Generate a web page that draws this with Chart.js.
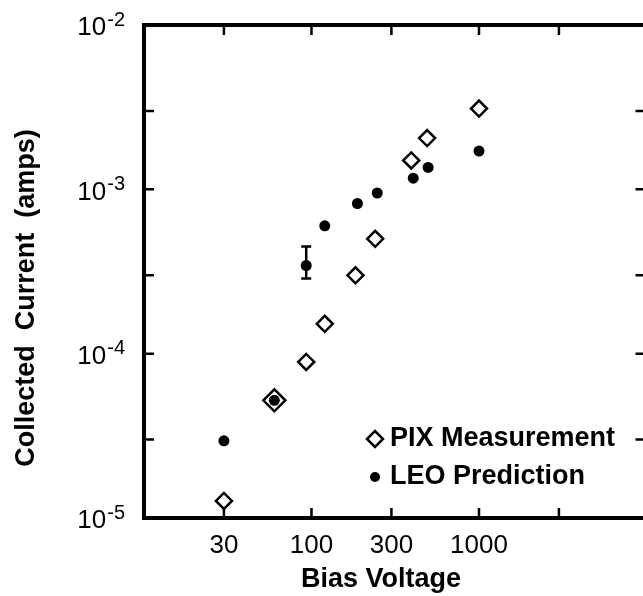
<!DOCTYPE html>
<html>
<head>
<meta charset="utf-8">
<script src="https://cdn.jsdelivr.net/npm/chart.js@4.4.1/dist/chart.umd.min.js"></script>
<style>
  html, body { margin: 0; padding: 0; background: #fff; overflow: hidden; }
  #wrap { width: 660px; height: 596px; }
</style>
</head>
<body>
<div id="wrap"><canvas id="pixChart" width="660" height="596"></canvas></div>
<script>
// PIX measurement vs LEO prediction, log-log
const pixVoltage = [30, 60, 93, 120, 183, 240, 394, 490, 1000];
const pixCurrent = [1.27e-5, 5.2e-5, 8.9e-5, 1.52e-4, 3.0e-4, 5.0e-4, 1.5e-3, 2.05e-3, 3.1e-3];

const leoVoltage = [30, 60, 93, 120, 188, 247, 405, 497, 1000];
const leoCurrent = [2.95e-5, 5.2e-5, 3.44e-4, 6.0e-4, 8.2e-4, 9.5e-4, 1.17e-3, 1.36e-3, 1.71e-3];

// error bar on the LEO point at ~93 V
const errVoltage = [93];
const errLow = [2.87e-4];
const errHigh = [4.49e-4];

const xTickValues = [30, 100, 300, 1000, 3000];
const xTickLabels = ['30', '100', '300', '1000', ''];
const yTickValues = [1e-5, 3e-5, 1e-4, 3e-4, 1e-3, 3e-3, 1e-2];
const yLabelValues = [1e-2, 1e-3, 1e-4, 1e-5];
const yLabelExponents = ['-2', '-3', '-4', '-5'];

const FONT = "'Liberation Sans', Arial, sans-serif";
Chart.defaults.font.family = FONT;
Chart.defaults.color = '#000';

const frameAndLabels = {
    id: 'frameAndLabels',
    afterDatasetsDraw(chart) {
        const { ctx, chartArea: a, scales: { x, y } } = chart;
        ctx.save();
        ctx.strokeStyle = '#000';
        ctx.fillStyle = '#000';
        ctx.lineCap = 'butt';

        // error bar
        ctx.lineWidth = 2.5;
        errVoltage.forEach((v, i) => {
            const px = x.getPixelForValue(v);
            const y1 = y.getPixelForValue(errLow[i]);
            const y2 = y.getPixelForValue(errHigh[i]);
            ctx.beginPath();
            ctx.moveTo(px, y1); ctx.lineTo(px, y2);
            ctx.moveTo(px - 5, y1); ctx.lineTo(px + 5, y1);
            ctx.moveTo(px - 5, y2); ctx.lineTo(px + 5, y2);
            ctx.stroke();
        });

        // frame
        ctx.lineWidth = 4;
        ctx.strokeRect(a.left, a.top, a.right - a.left, a.bottom - a.top);

        // inward ticks
        ctx.lineWidth = 2.5;
        ctx.beginPath();
        xTickValues.forEach(v => {
            const px = x.getPixelForValue(v);
            ctx.moveTo(px, a.bottom); ctx.lineTo(px, a.bottom - 10);
            ctx.moveTo(px, a.top); ctx.lineTo(px, a.top + 10);
        });
        yTickValues.forEach(v => {
            const py = y.getPixelForValue(v);
            ctx.moveTo(a.left, py); ctx.lineTo(a.left + 10, py);
            ctx.moveTo(a.right, py); ctx.lineTo(a.right - 11, py);
        });
        ctx.stroke();

        // y labels 10^-n
        ctx.textBaseline = 'middle';
        yLabelValues.forEach((v, i) => {
            const py = y.getPixelForValue(v);
            ctx.font = '20px ' + FONT;
            ctx.textAlign = 'right';
            ctx.fillText(yLabelExponents[i], a.left - 19, py - 5);
            const ew = ctx.measureText(yLabelExponents[i]).width;
            ctx.font = '26px ' + FONT;
            ctx.fillText('10', a.left - 20 - ew, py + 3);
        });

        // axis titles
        ctx.font = 'bold 27px ' + FONT;
        ctx.textAlign = 'center';
        ctx.fillText('Bias Voltage', a.left + 237, 580);
        ctx.save();
        ctx.translate(27, 298);
        ctx.rotate(-Math.PI / 2);
        ctx.fillText('Collected  Current  (amps)', 0, 0);
        ctx.restore();

        // legend
        const lx = a.left + 231;
        ctx.lineWidth = 2.5;
        ctx.beginPath();
        ctx.moveTo(lx - 8, 439); ctx.lineTo(lx, 431); ctx.lineTo(lx + 8, 439); ctx.lineTo(lx, 447);
        ctx.closePath();
        ctx.stroke();
        ctx.beginPath();
        ctx.arc(lx, 477, 5, 0, Math.PI * 2);
        ctx.fill();
        ctx.font = 'bold 27px ' + FONT;
        ctx.textAlign = 'left';
        ctx.fillText('PIX Measurement', lx + 15, 439);
        ctx.fillText('LEO Prediction', lx + 15, 477);
        ctx.restore();
    }
};

new Chart(document.getElementById('pixChart').getContext('2d'), {
    type: 'scatter',
    data: {
        datasets: [
            {
                label: 'LEO Prediction',
                data: leoVoltage.map((v, i) => ({ x: v, y: leoCurrent[i] })),
                pointStyle: 'circle',
                pointRadius: 5.5,
                pointBackgroundColor: '#000',
                pointBorderColor: '#000',
                pointBorderWidth: 0
            },
            {
                label: 'PIX Measurement',
                data: pixVoltage.map((v, i) => ({ x: v, y: pixCurrent[i] })),
                pointStyle: 'rectRot',
                pointRadius: ctx => (ctx.raw && ctx.raw.x === 60 ? 11 : 8),
                pointBackgroundColor: 'rgba(255,255,255,0)',
                pointBorderColor: '#000',
                pointBorderWidth: 2.5
            }
        ]
    },
    options: {
        responsive: false,
        animation: false,
        events: [],
        layout: { padding: { top: 25, right: 12, left: 0, bottom: 0 } },
        plugins: { legend: { display: false }, tooltip: { enabled: false } },
        scales: {
            x: {
                type: 'logarithmic',
                min: 10,
                max: 10000,
                grid: { display: false },
                border: { display: false },
                afterBuildTicks: s => { s.ticks = xTickValues.map(v => ({ value: v })); },
                afterFit: s => { s.height = 78; },
                ticks: {
                    autoSkip: false,
                    maxRotation: 0,
                    padding: 4,
                    font: { size: 26 },
                    callback: value => xTickLabels[xTickValues.indexOf(value)] || ''
                }
            },
            y: {
                type: 'logarithmic',
                min: 1e-5,
                max: 1e-2,
                grid: { display: false },
                border: { display: false },
                ticks: { display: false },
                afterBuildTicks: s => { s.ticks = yTickValues.map(v => ({ value: v })); },
                afterFit: s => { s.width = 144; }
            }
        }
    },
    plugins: [frameAndLabels]
});
</script>
</body>
</html>
